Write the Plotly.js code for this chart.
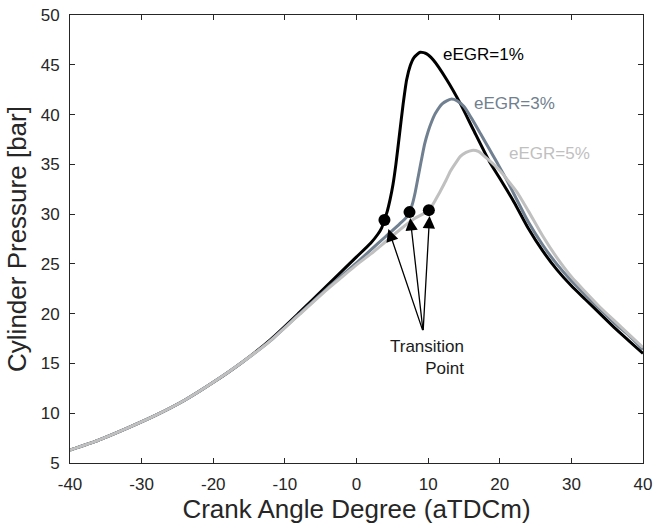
<!DOCTYPE html>
<html>
<head>
<meta charset="utf-8">
<script src="https://cdn.plot.ly/plotly-3.0.1.min.js"></script>
<style>html,body{margin:0;padding:0;background:#fff;}#chart{width:654px;height:529px;}</style>
</head>
<body>
<div id="chart"></div>
<script>
// Crank angle (deg aTDCm) and cylinder pressure (bar)
const xEGR1 = [-40,-36,-32,-28,-24,-20,-16,-12,-8,-4,-2,0,2,3,3.5,3.9,4.3,4.7,5.1,5.5,6,6.5,7,7.5,8,8.9,9.8,10.7,12.6,14.5,16.3,18.7,20,22,24,26,28,30,32,34,36,38,40];
const pEGR1 = [6.3,7.3,8.5,9.8,11.3,13.1,15.1,17.4,20.1,22.9,24.3,25.7,27.1,28.0,28.6,29.4,30.3,31.5,33.0,35.0,38.0,41.0,43.5,44.9,45.7,46.25,46.1,45.5,43.5,41.1,38.5,35.1,33.6,31.2,28.55,26.3,24.4,22.8,21.4,20.0,18.6,17.3,16.0];

const xEGR3 = [-40,-36,-32,-28,-24,-20,-16,-12,-8,-4,0,2,4,6,7,7.4,7.8,8.2,8.6,9,9.5,10,10.5,11,12,13.2,14,15,16,17.3,18.5,19.6,21,22,24,26,28,30,32,34,36,38,40];
const pEGR3 = [6.3,7.3,8.5,9.8,11.3,13.1,15.1,17.3,19.95,22.6,25.1,26.4,27.7,29.0,29.7,30.2,31.0,32.2,33.7,35.2,37.0,38.3,39.3,40.1,41.1,41.55,41.4,40.8,39.7,38.1,36.6,35.2,33.4,32.0,29.2,26.9,24.95,23.3,21.85,20.45,19.05,17.85,16.4];

const xEGR5 = [-40,-36,-32,-28,-24,-20,-16,-12,-8,-4,-2,0,2,4,6,8,9.5,10.1,10.6,11,11.7,12.5,13.1,14,14.5,15.3,16.1,17,18.2,19,20.1,21,22.4,24,26,28,30,32,34,36,38,40];
const pEGR5 = [6.3,7.3,8.5,9.8,11.3,13.1,15.1,17.3,19.9,22.5,23.7,24.9,26.0,27.2,28.4,29.5,30.1,30.4,30.9,31.4,32.3,33.4,34.3,35.3,35.8,36.2,36.4,36.3,35.6,35.1,34.3,33.5,32.2,30.3,27.8,25.6,23.7,22.15,20.65,19.3,17.95,16.6];

// Transition points
const xTrans = [3.9, 7.4, 10.1];
const pTrans = [29.4, 30.2, 30.4];
// Arrow tips (just below each point) and common arrow tail
const xTip = [4.45, 7.5, 10.2];
const pTip = [28.5, 29.6, 29.8];
const xTail = 9.3, pTail = 18.2;

const seriesNames = ['eEGR=1%', 'eEGR=3%', 'eEGR=5%'];
const seriesColors = ['#000000', '#708090', '#c0c0c0'];
const labelX = [17.7, 22.0, 26.9];
const labelP = [46.0, 41.1, 36.1];

const xTicks = [-40,-30,-20,-10,0,10,20,30,40];
const xTickText = ['-40','-30','-20','-10','0','10','20','30','40'];
const yTicks = [5,10,15,20,25,30,35,40,45,50];
const yTickText = ['5','10','15','20','25','30','35','40','45','50'];

const FONT = '"Liberation Sans", Arial, Helvetica, sans-serif';
const AX = '#262626';

const xs = [xEGR1, xEGR3, xEGR5];
const ps = [pEGR1, pEGR3, pEGR5];
const traces = xs.map((x, i) => ({
  x: x, y: ps[i], type: 'scatter', mode: 'lines', name: seriesNames[i],
  line: {color: seriesColors[i], width: 3, shape: 'spline', smoothing: 0.6},
  hoverinfo: 'skip'
}));
traces.push({
  x: xTrans, y: pTrans, type: 'scatter', mode: 'markers',
  marker: {color: '#000000', size: 12}, hoverinfo: 'skip'
});

const annotations = seriesNames.map((t, i) => ({
  x: labelX[i], y: labelP[i], xref: 'x', yref: 'y', text: t, showarrow: false,
  font: {family: FONT, size: 17, color: seriesColors[i]}, xanchor: 'center', yanchor: 'middle'
}));
xTip.forEach((x, i) => annotations.push({
  x: x, y: pTip[i], xref: 'x', yref: 'y', ax: xTail, ay: pTail, axref: 'x', ayref: 'y',
  text: '', showarrow: true, arrowhead: 2, arrowsize: 1.9, arrowwidth: 1.3, arrowcolor: '#000000'
}));
annotations.push({
  x: 15.25, y: 15.6, xref: 'x', yref: 'y', text: 'Transition<br>Point', showarrow: false,
  align: 'right', xanchor: 'right', yanchor: 'middle',
  font: {family: FONT, size: 17, color: '#1a1a1a'}
});

const layout = {
  width: 654, height: 529,
  margin: {l: 70, r: 11, t: 15, b: 66},
  paper_bgcolor: '#ffffff', plot_bgcolor: '#ffffff',
  showlegend: false,
  font: {family: FONT, color: AX},
  xaxis: {
    range: [-40, 40], tickmode: 'array', tickvals: xTicks, ticktext: xTickText,
    ticks: 'inside', ticklen: 5, tickcolor: AX,
    showline: true, linecolor: AX, linewidth: 1, mirror: 'ticks', showgrid: false, zeroline: false,
    tickfont: {family: FONT, size: 17, color: AX}, ticklabelstandoff: 6,
    title: {text: 'Crank Angle Degree (aTDCm)', font: {family: FONT, size: 26, color: AX}, standoff: 6}
  },
  yaxis: {
    range: [5, 50], tickmode: 'array', tickvals: yTicks, ticktext: yTickText,
    ticks: 'inside', ticklen: 5, tickcolor: AX,
    showline: true, linecolor: AX, linewidth: 1, mirror: 'ticks', showgrid: false, zeroline: false,
    tickfont: {family: FONT, size: 17, color: AX}, ticklabelstandoff: 6,
    title: {text: 'Cylinder Pressure [bar]', font: {family: FONT, size: 26, color: AX}, standoff: 6}
  },
  annotations: annotations
};

Plotly.newPlot('chart', traces, layout, {displayModeBar: false, staticPlot: true});
</script>
</body>
</html>
